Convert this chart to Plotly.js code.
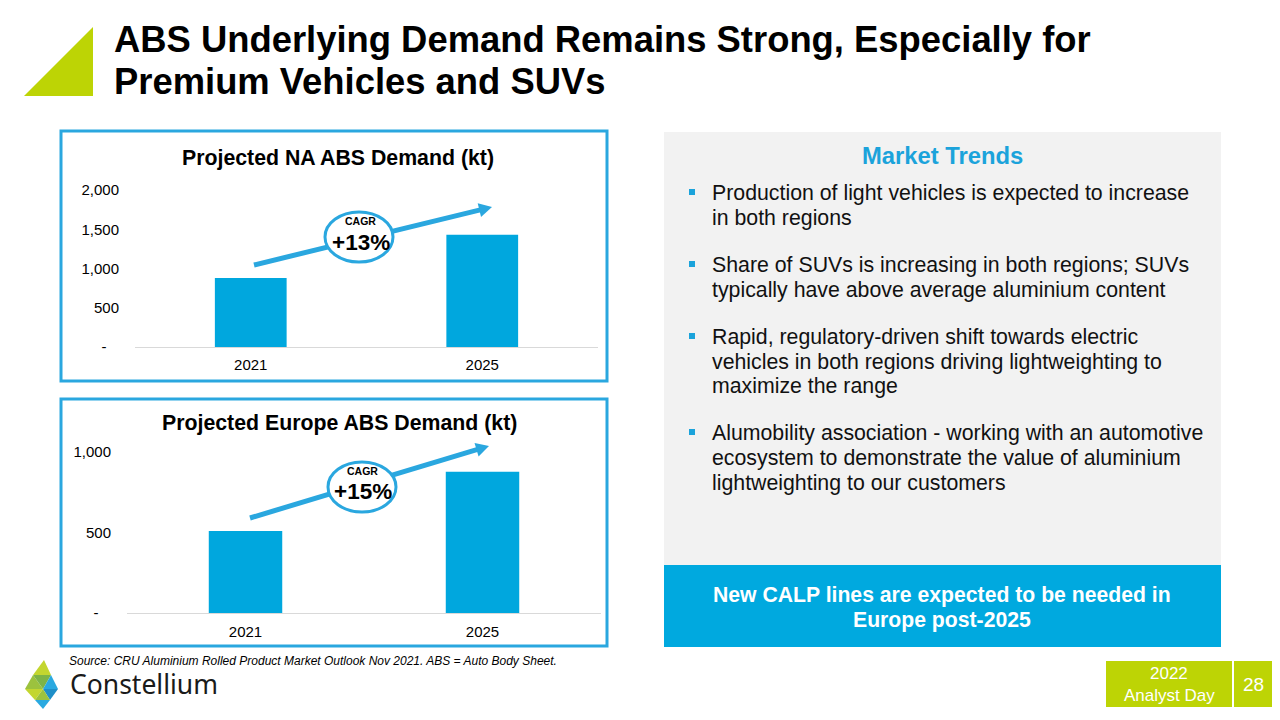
<!DOCTYPE html>
<html>
<head>
<meta charset="utf-8">
<script src="https://cdn.plot.ly/plotly-3.0.1.min.js"></script>
<style>html,body{margin:0;padding:0;background:#fff;}#chart{width:1280px;height:720px;}</style>
</head>
<body>
<div id="chart"></div>
<script>
// ---- Data ----
const years = ["2021", "2025"];
const naDemand = [880, 1430];        // kt
const europeDemand = [510, 878];     // kt
const naTickVals = [0, 500, 1000, 1500, 2000];
const naTickText = ["-\u00a0\u00a0\u00a0", "500", "1,000", "1,500", "2,000"];
const euTickVals = [0, 500, 1000];
const euTickText = ["-\u00a0\u00a0\u00a0", "500", "1,000"];
const naCagr = "+13%";
const euCagr = "+15%";
const bullets = [
  ["Production of light vehicles is expected to increase", "in both regions"],
  ["Share of SUVs is increasing in both regions; SUVs", "typically have above average aluminium content"],
  ["Rapid, regulatory-driven shift towards electric", "vehicles in both regions driving lightweighting to", "maximize the range"],
  ["Alumobility association - working with an automotive", "ecosystem to demonstrate the value of aluminium", "lightweighting to our customers"]
];

// ---- helpers (pixel -> paper) ----
const W = 1280, H = 720;
const px = x => x / W;
const py = y => 1 - y / H;
const FONT = "Liberation Sans, Arial, sans-serif";
const BLUE = "#00A7DE";
const BORDER = "#2AA7DF";
const LIME = "#BDD405";

const shapes = [];
const ann = [];

function rect(x0, y0, x1, y1, fill, line, lw, layer) {
  shapes.push({type: "rect", xref: "paper", yref: "paper", x0: px(x0), x1: px(x1), y0: py(y1), y1: py(y0),
    fillcolor: fill, line: {color: line || "rgba(0,0,0,0)", width: lw || 0}, layer: layer || "below"});
}
function poly(pts, fill, layer) {
  const p = pts.map((q, i) => (i ? "L" : "M") + px(q[0]) + "," + py(q[1])).join(" ") + " Z";
  shapes.push({type: "path", xref: "paper", yref: "paper", path: p, fillcolor: fill, line: {width: 0}, layer: layer || "above"});
}
function text(t, x, y, size, opts) {
  opts = opts || {};
  ann.push(Object.assign({xref: "paper", yref: "paper", x: px(x), y: py(y), text: t, showarrow: false,
    xanchor: opts.xanchor || "left", yanchor: "middle",
    font: {family: opts.family || FONT, size: size, color: opts.color || "#000", weight: opts.weight || "normal", style: opts.style || "normal"}}, opts.extra || {}));
}
function arrow(x0, y0, x1, y1) {
  const dx = x1 - x0, dy = y1 - y0, L = Math.hypot(dx, dy);
  const ux = dx / L, uy = dy / L, nx = -uy, ny = ux;
  const hl = 13, hw = 7;
  const bx = x1 - ux * hl, by = y1 - uy * hl;
  shapes.push({type: "line", xref: "paper", yref: "paper", x0: px(x0), y0: py(y0), x1: px(bx + ux * 2), y1: py(by + uy * 2),
    line: {color: BORDER, width: 5}, layer: "above"});
  poly([[x1, y1], [bx + nx * hw, by + ny * hw], [bx - nx * hw, by - ny * hw]], BORDER, "above");
}
function ellipse(cx, cy, rx, ry) {
  shapes.push({type: "circle", xref: "paper", yref: "paper", x0: px(cx - rx), x1: px(cx + rx), y0: py(cy + ry), y1: py(cy - ry),
    fillcolor: "#fff", line: {color: BORDER, width: 3}, layer: "above"});
}

// ---- Slide decorations ----
poly([[24, 96], [93, 27], [93, 96]], LIME, "below");
text("ABS Underlying Demand Remains Strong, Especially for", 112, 39, 36.4, {weight: "bold"});
text("Premium Vehicles and SUVs", 112, 81, 36.4, {weight: "bold"});

// chart boxes
rect(61, 131, 607, 381, "#fff", BORDER, 3, "below");
rect(61, 399, 607, 646, "#fff", BORDER, 3, "below");
text("Projected NA ABS Demand (kt)", 338, 158, 21.3, {weight: "bold", xanchor: "center"});
text("Projected Europe ABS Demand (kt)", 339, 423, 21.3, {weight: "bold", xanchor: "center"});

// CAGR arrows + ellipses
arrow(254, 265, 492, 207);
ellipse(359, 237, 34, 25);
text("CAGR", 360, 221, 10.5, {weight: "bold", xanchor: "center"});
text(naCagr, 361, 242, 22.5, {weight: "bold", xanchor: "center"});
arrow(250, 518, 489, 446);
ellipse(362, 487, 34, 25);
text("CAGR", 362, 471, 10.5, {weight: "bold", xanchor: "center"});
text(euCagr, 363, 491, 22.5, {weight: "bold", xanchor: "center"});

// right panel
rect(664, 132, 1221, 565, "#F2F2F2", null, 0, "below");
rect(664, 565, 1221, 647, "#00A9DF", null, 0, "below");
text("Market Trends", 942, 155, 23.8, {weight: "bold", color: "#1BA3DB", xanchor: "center"});
const lineCenters = [[193, 218], [265, 290], [337, 362, 386], [433, 458, 483]];
bullets.forEach((b, i) => {
  const cy = lineCenters[i][0];
  rect(689, cy - 4, 695, cy + 2, "#1BA3DB", null, 0, "above");
  b.forEach((ln, j) => text(ln, 710, lineCenters[i][j], 21.3, {color: "#111"}));
});
text("New CALP lines are expected to be needed in", 942, 595, 21.2, {weight: "bold", color: "#fff", xanchor: "center"});
text("Europe post-2025", 942, 620, 21.2, {weight: "bold", color: "#fff", xanchor: "center"});

// footer
text("Source: CRU Aluminium Rolled Product Market Outlook Nov 2021. ABS = Auto Body Sheet.", 67, 661, 12, {style: "italic"});
text("Constellium", 68, 684, 26.5, {family: "Noto Sans, Open Sans, sans-serif", color: "#1a1a1a"});
// logo mark
poly([[44, 660], [33, 675], [51, 675]], "#C3D62F");
poly([[33, 675], [25, 689], [43, 689]], "#9CC23E");
poly([[33, 675], [51, 675], [43, 689]], "#7DB446");
poly([[51, 675], [58, 689], [43, 689]], "#2AA9E0");
poly([[25, 689], [43, 689], [35, 700]], "#C3D62F");
poly([[43, 689], [58, 689], [50, 700]], "#1E8FC8");
poly([[35, 700], [50, 700], [43, 709]], "#2AA9E0");
poly([[43, 689], [35, 700], [50, 700]], "#9CC23E");
rect(1106, 661, 1232, 707, LIME, null, 0, "below");
rect(1234, 661, 1272, 707, LIME, null, 0, "below");
text("2022", 1169, 673, 17, {color: "#fff", xanchor: "center"});
text("Analyst Day", 1169, 695, 17, {color: "#fff", xanchor: "center"});
text("28", 1253, 684, 19, {color: "#fff", xanchor: "center"});

// ---- Charts ----
const traces = [
  {type: "bar", x: years, y: naDemand, xaxis: "x", yaxis: "y", marker: {color: BLUE}, hoverinfo: "x+y"},
  {type: "bar", x: years, y: europeDemand, xaxis: "x2", yaxis: "y2", marker: {color: BLUE}, hoverinfo: "x+y"}
];
const tickFont = {family: FONT, size: 15, color: "#000"};
const layout = {
  width: W, height: H, margin: {l: 0, r: 0, t: 0, b: 0},
  paper_bgcolor: "rgba(0,0,0,0)", plot_bgcolor: "rgba(0,0,0,0)",
  showlegend: false, bargap: 0.69,
  xaxis: {domain: [px(135), px(598)], anchor: "y", type: "category", showline: true, linecolor: "#D9D9D9", linewidth: 1,
    ticks: "outside", ticklen: 4, tickcolor: "rgba(0,0,0,0)", tickfont: tickFont, fixedrange: true},
  yaxis: {domain: [py(347), py(190)], anchor: "x", range: [0, 2000], tickvals: naTickVals, ticktext: naTickText,
    showgrid: false, zeroline: false, ticks: "outside", ticklen: 12, tickcolor: "rgba(0,0,0,0)", tickfont: tickFont, fixedrange: true},
  xaxis2: {domain: [px(127), px(601)], anchor: "y2", type: "category", showline: true, linecolor: "#D9D9D9", linewidth: 1,
    ticks: "outside", ticklen: 5, tickcolor: "rgba(0,0,0,0)", tickfont: tickFont, fixedrange: true},
  yaxis2: {domain: [py(613), py(452)], anchor: "x2", range: [0, 1000], tickvals: euTickVals, ticktext: euTickText,
    showgrid: false, zeroline: false, ticks: "outside", ticklen: 12, tickcolor: "rgba(0,0,0,0)", tickfont: tickFont, fixedrange: true},
  shapes: shapes, annotations: ann
};
Plotly.newPlot("chart", traces, layout, {displayModeBar: false, staticPlot: true});
</script>
</body>
</html>
